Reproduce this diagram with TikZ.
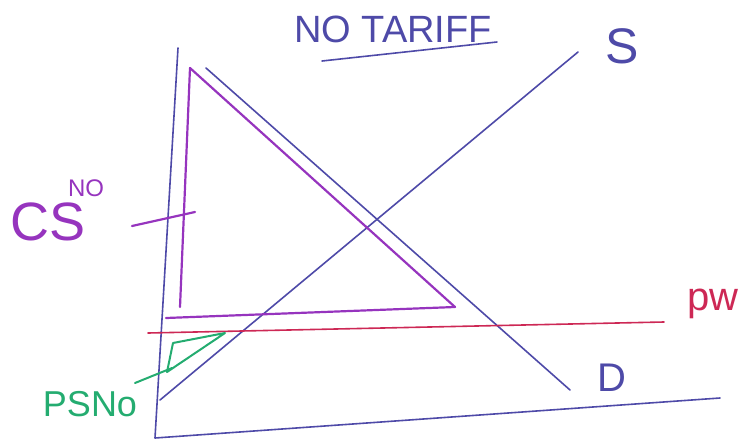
\documentclass[tikz,border=0pt]{standalone}
\usepackage{fontspec}
\setmainfont{Liberation Sans}
\definecolor{penblu}{RGB}{78,74,168}
\definecolor{penviola}{RGB}{150,52,190}
\definecolor{penrosso}{RGB}{205,40,85}
\definecolor{penverde}{RGB}{36,172,112}
\tikzset{
  tratto/.style={line width=1.6pt,line cap=round,line join=round},
  scritta/.style={inner sep=0pt,font=\fontsize{34}{36}\selectfont}
}
\begin{document}
\begin{tikzpicture}[x=1pt,y=-1pt]
    \useasboundingbox (0,0) rectangle (751,444);
    % assi e curve di offerta e domanda
    \coordinate (ytop) at (178,48);
    \coordinate (O) at (155,438);
    \coordinate (xend) at (720,398);
    \coordinate (s0) at (160,400);
    \coordinate (s1) at (578,52);
    \coordinate (d0) at (206,68);
    \coordinate (d1) at (570,390);
    \coordinate (pw0) at (148,333);
    \coordinate (pw1) at (664,322);
    \draw[tratto,penblu] (ytop) -- (O) -- (xend);
    \draw[tratto,penblu] (s0) -- (s1);
    \draw[tratto,penblu] (d0) -- (d1);
    \draw[tratto,penrosso] (pw0) -- (pw1);
    % surplus del consumatore
    \coordinate (cs0) at (190,68);
    \coordinate (cs1) at (180,307);
    \coordinate (cs2) at (455,307);
    \coordinate (cs3) at (166,318);
    \draw[tratto,penviola,line width=2.2pt] (cs0) -- (cs1);
    \draw[tratto,penviola,line width=2.2pt] (cs3) -- (cs2) -- (cs0);
    \coordinate (cst0) at (132,226);
    \coordinate (cst1) at (195,212);
    \draw[tratto,penviola,line width=2.2pt] (cst0) -- (cst1);
    % surplus del produttore
    \coordinate (ps0) at (173,343);
    \coordinate (ps1) at (225,333);
    \coordinate (ps2) at (167,372);
    \coordinate (pst0) at (135,383);
    \coordinate (pst1) at (172,368);
    \draw[tratto,penverde,line width=2pt] (ps0) -- (ps2) -- (ps1) -- cycle;
    \draw[tratto,penverde,line width=2pt] (pst0) -- (pst1);
    % scritte
    \node[scritta,penblu,font=\fontsize{38}{40}\selectfont] (titolo) at (393,29) {NO TARIFF};
    \coordinate (sott0) at (322,61);
    \coordinate (sott1) at (497,42);
    \draw[tratto,penblu] (sott0) -- (sott1);
    \node[scritta,penblu,font=\fontsize{50}{52}\selectfont] (labS) at (622,46) {S};
    \node[scritta,penblu,font=\fontsize{40}{42}\selectfont] (labD) at (612,378) {D};
    \node[scritta,penrosso,font=\fontsize{40}{42}\selectfont] (labpw) at (713,304) {pw};
    \node[scritta,penviola,font=\fontsize{54}{56}\selectfont] (labCS) at (48,222) {CS};
    \node[scritta,penviola,font=\fontsize{24}{26}\selectfont] (labNO) at (86,188) {NO};
    \node[scritta,penverde,font=\fontsize{36}{38}\selectfont] (labPS) at (90,404) {PSNo};
\end{tikzpicture}
\end{document}
